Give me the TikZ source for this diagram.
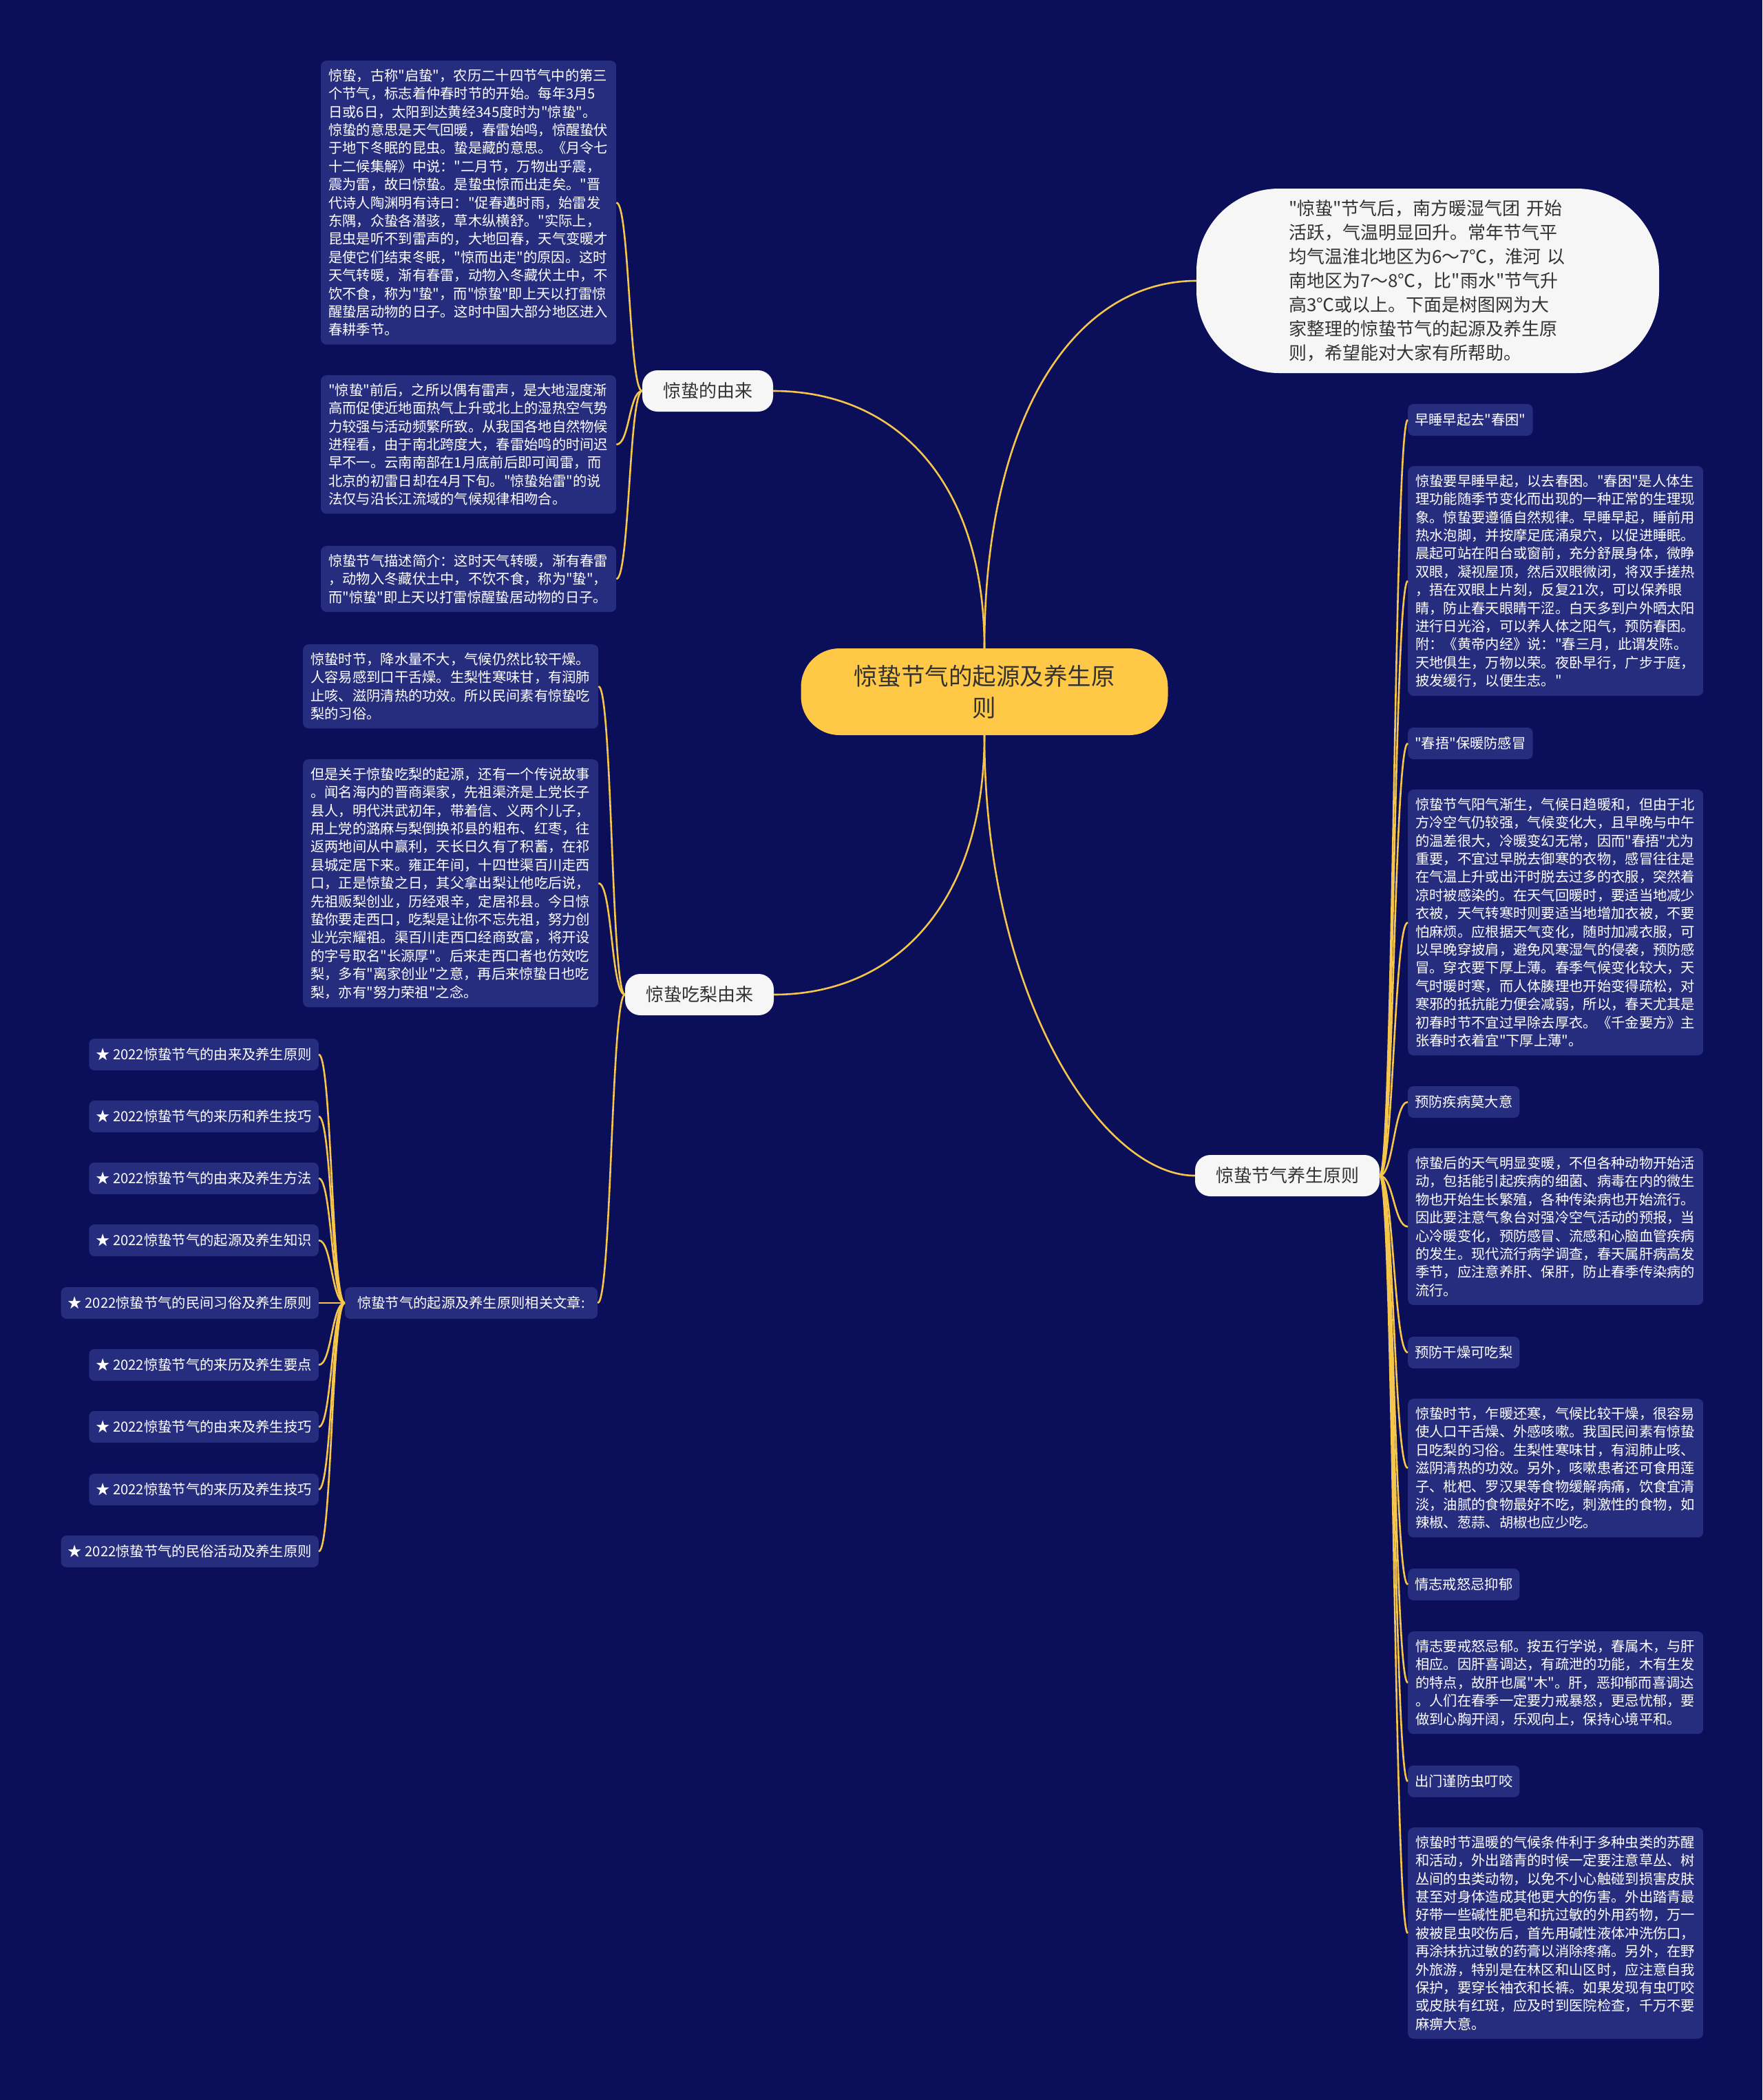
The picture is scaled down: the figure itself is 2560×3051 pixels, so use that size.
\documentclass[tikz,border=0pt]{standalone}
\usepackage{fontspec}
\setmainfont{Noto Sans CJK SC}[Ligatures=TeXOff]
\usepackage{tikz}
\setlength{\parindent}{0pt}
\definecolor{cnavy}{HTML}{0B0F5A}
\definecolor{cleaf}{HTML}{262D7E}
\definecolor{cgold}{HTML}{F6C64A}
\definecolor{croot}{HTML}{FFC847}
\definecolor{cpale}{HTML}{F6F6F6}
\definecolor{cink}{HTML}{333333}

\begin{document}
\begin{tikzpicture}[x=1pt,y=-1pt,
  leaf/.style={fill=cleaf,rounded corners=8pt,text=white,
    font=\fontsize{20.3}{26.4}\selectfont,align=left,text width=407pt,
    inner xsep=11pt,inner ysep=12pt,anchor=north west},
  tag/.style={fill=cleaf,rounded corners=8pt,text=white,
    font=\fontsize{20.3}{26.4}\selectfont,minimum height=46pt,
    inner xsep=10pt,inner ysep=0pt},
  topic/.style={fill=cpale,rounded corners=22pt,text=cink,
    font=\fontsize{26}{32}\selectfont,minimum height=60pt,inner xsep=30pt},
  link/.style={draw=cgold,line width=2.6pt}]
  \fill[cnavy] (0,0) rectangle (2560,3051);
  \useasboundingbox (0,0) rectangle (2560,3051);

  % root and main topics
  \node[fill=croot,rounded corners=56pt,text=cink,minimum width=533pt,
    minimum height=126pt,align=center,font=\fontsize{34.5}{46}\selectfont]
    (root) at (1430,1005) {惊蛰节气的起源及养生原\\则};
  \node[fill=cpale,rounded corners=120pt,text=cink,minimum width=672pt,
    minimum height=268pt,text width=404pt,align=left,
    font=\fontsize{26}{35}\selectfont] (intro) at (2074,408)
    {"惊蛰"节气后，南方暖湿气团~开始\\活跃，气温明显回升。常年节气平\\均气温淮北地区为6～7℃，淮河~以\\南地区为7～8℃，比"雨水"节气升\\高3℃或以上。下面是树图网为大\\家整理的惊蛰节气的起源及养生原\\则，希望能对大家有所帮助。};
  \node[topic] (origin) at (1028,568) {惊蛰的由来};
  \node[topic] (pear) at (1016,1445) {惊蛰吃梨由来};
  \node[topic] (care) at (1870,1708) {惊蛰节气养生原则};

  % origin
  \node[leaf] (o1) at (466,88) {惊蛰，古称"启蛰"，农历二十四节气中的第三\\个节气，标志着仲春时节的开始。每年3月5\\日或6日，太阳到达黄经345度时为"惊蛰"。\\惊蛰的意思是天气回暖，春雷始鸣，惊醒蛰伏\\于地下冬眠的昆虫。蛰是藏的意思。《月令七\\十二候集解》中说："二月节，万物出乎震，\\震为雷，故曰惊蛰。是蛰虫惊而出走矣。"晋\\代诗人陶渊明有诗曰："促春遘时雨，始雷发\\东隅，众蛰各潜骇，草木纵横舒。"实际上，\\昆虫是听不到雷声的，大地回春，天气变暖才\\是使它们结束冬眠，"惊而出走"的原因。这时\\天气转暖，渐有春雷，动物入冬藏伏土中，不\\饮不食，称为"蛰"，而"惊蛰"即上天以打雷惊\\醒蛰居动物的日子。这时中国大部分地区进入\\春耕季节。};
  \node[leaf] (o2) at (466,545) {"惊蛰"前后，之所以偶有雷声，是大地湿度渐\\高而促使近地面热气上升或北上的湿热空气势\\力较强与活动频繁所致。从我国各地自然物候\\进程看，由于南北跨度大，春雷始鸣的时间迟\\早不一。云南南部在1月底前后即可闻雷，而\\北京的初雷日却在4月下旬。"惊蛰始雷"的说\\法仅与沿长江流域的气候规律相吻合。};
  \node[leaf] (o3) at (466,793) {惊蛰节气描述简介：这时天气转暖，渐有春雷\\，动物入冬藏伏土中，不饮不食，称为"蛰"，\\而"惊蛰"即上天以打雷惊醒蛰居动物的日子。};

  % pear
  \node[leaf] (p1) at (440,936) {惊蛰时节，降水量不大，气候仍然比较干燥。\\人容易感到口干舌燥。生梨性寒味甘，有润肺\\止咳、滋阴清热的功效。所以民间素有惊蛰吃\\梨的习俗。};
  \node[leaf] (p2) at (440,1103) {但是关于惊蛰吃梨的起源，还有一个传说故事\\。闻名海内的晋商渠家，先祖渠济是上党长子\\县人，明代洪武初年，带着信、义两个儿子，\\用上党的潞麻与梨倒换祁县的粗布、红枣，往\\返两地间从中赢利，天长日久有了积蓄，在祁\\县城定居下来。雍正年间，十四世渠百川走西\\口，正是惊蛰之日，其父拿出梨让他吃后说，\\先祖贩梨创业，历经艰辛，定居祁县。今日惊\\蛰你要走西口，吃梨是让你不忘先祖，努力创\\业光宗耀祖。渠百川走西口经商致富，将开设\\的字号取名"长源厚"。后来走西口者也仿效吃\\梨，多有"离家创业"之意，再后来惊蛰日也吃\\梨，亦有"努力荣祖"之念。};
  \node[tag,minimum width=367pt] (rel) at (684.5,1893) {惊蛰节气的起源及养生原则相关文章:};

  % related articles
  \node[tag,anchor=east] (a1) at (463,1532) {★ 2022惊蛰节气的由来及养生原则};
  \node[tag,anchor=east] (a2) at (463,1622) {★ 2022惊蛰节气的来历和养生技巧};
  \node[tag,anchor=east] (a3) at (463,1712) {★ 2022惊蛰节气的由来及养生方法};
  \node[tag,anchor=east] (a4) at (463,1802) {★ 2022惊蛰节气的起源及养生知识};
  \node[tag,anchor=east] (a5) at (463,1893) {★ 2022惊蛰节气的民间习俗及养生原则};
  \node[tag,anchor=east] (a6) at (463,1983) {★ 2022惊蛰节气的来历及养生要点};
  \node[tag,anchor=east] (a7) at (463,2073) {★ 2022惊蛰节气的由来及养生技巧};
  \node[tag,anchor=east] (a8) at (463,2164) {★ 2022惊蛰节气的来历及养生技巧};
  \node[tag,anchor=east] (a9) at (463,2254) {★ 2022惊蛰节气的民俗活动及养生原则};

  % care
  \node[tag,anchor=west] (c1) at (2045,610) {早睡早起去"春困"};
  \node[leaf] (c2) at (2045,677) {惊蛰要早睡早起，以去春困。"春困"是人体生\\理功能随季节变化而出现的一种正常的生理现\\象。惊蛰要遵循自然规律。早睡早起，睡前用\\热水泡脚，并按摩足底涌泉穴，以促进睡眠。\\晨起可站在阳台或窗前，充分舒展身体，微睁\\双眼，凝视屋顶，然后双眼微闭，将双手搓热\\，捂在双眼上片刻，反复21次，可以保养眼\\睛，防止春天眼睛干涩。白天多到户外晒太阳\\进行日光浴，可以养人体之阳气，预防春困。\\附：《黄帝内经》说："春三月，此谓发陈。\\天地俱生，万物以荣。夜卧早行，广步于庭，\\披发缓行，以便生志。"};
  \node[tag,anchor=west] (c3) at (2045,1080) {"春捂"保暖防感冒};
  \node[leaf] (c4) at (2045,1147) {惊蛰节气阳气渐生，气候日趋暖和，但由于北\\方冷空气仍较强，气候变化大，且早晚与中午\\的温差很大，冷暖变幻无常，因而"春捂"尤为\\重要，不宜过早脱去御寒的衣物，感冒往往是\\在气温上升或出汗时脱去过多的衣服，突然着\\凉时被感染的。在天气回暖时，要适当地减少\\衣被，天气转寒时则要适当地增加衣被，不要\\怕麻烦。应根据天气变化，随时加减衣服，可\\以早晚穿披肩，避免风寒湿气的侵袭，预防感\\冒。穿衣要下厚上薄。春季气候变化较大，天\\气时暖时寒，而人体腠理也开始变得疏松，对\\寒邪的抵抗能力便会减弱，所以，春天尤其是\\初春时节不宜过早除去厚衣。《千金要方》主\\张春时衣着宜"下厚上薄"。};
  \node[tag,anchor=west] (c5) at (2045,1601) {预防疾病莫大意};
  \node[leaf] (c6) at (2045,1668) {惊蛰后的天气明显变暖，不但各种动物开始活\\动，包括能引起疾病的细菌、病毒在内的微生\\物也开始生长繁殖，各种传染病也开始流行。\\因此要注意气象台对强冷空气活动的预报，当\\心冷暖变化，预防感冒、流感和心脑血管疾病\\的发生。现代流行病学调查，春天属肝病高发\\季节，应注意养肝、保肝，防止春季传染病的\\流行。};
  \node[tag,anchor=west] (c7) at (2045,1965) {预防干燥可吃梨};
  \node[leaf] (c8) at (2045,2032) {惊蛰时节，乍暖还寒，气候比较干燥，很容易\\使人口干舌燥、外感咳嗽。我国民间素有惊蛰\\日吃梨的习俗。生梨性寒味甘，有润肺止咳、\\滋阴清热的功效。另外，咳嗽患者还可食用莲\\子、枇杷、罗汉果等食物缓解病痛，饮食宜清\\淡，油腻的食物最好不吃，刺激性的食物，如\\辣椒、葱蒜、胡椒也应少吃。};
  \node[tag,anchor=west] (c9) at (2045,2302) {情志戒怒忌抑郁};
  \node[leaf] (c10) at (2045,2370) {情志要戒怒忌郁。按五行学说，春属木，与肝\\相应。因肝喜调达，有疏泄的功能，木有生发\\的特点，故肝也属"木"。肝，恶抑郁而喜调达\\。人们在春季一定要力戒暴怒，更忌忧郁，要\\做到心胸开阔，乐观向上，保持心境平和。};
  \node[tag,anchor=west] (c11) at (2045,2588) {出门谨防虫叮咬};
  \node[leaf] (c12) at (2045,2655) {惊蛰时节温暖的气候条件利于多种虫类的苏醒\\和活动，外出踏青的时候一定要注意草丛、树\\丛间的虫类动物，以免不小心触碰到损害皮肤\\甚至对身体造成其他更大的伤害。外出踏青最\\好带一些碱性肥皂和抗过敏的外用药物，万一\\被被昆虫咬伤后，首先用碱性液体冲洗伤口，\\再涂抹抗过敏的药膏以消除疼痛。另外，在野\\外旅游，特别是在林区和山区时，应注意自我\\保护，要穿长袖衣和长裤。如果发现有虫叮咬\\或皮肤有红斑，应及时到医院检查，千万不要\\麻痹大意。};

  % connectors
  \draw[link] (root.north) .. controls +(0,-240) and +(180,0) .. (origin.east);
  \draw[link] (root.north) .. controls +(0,-340) and +(-175,0) .. (intro.west);
  \draw[link] (root.south) .. controls +(0,240) and +(180,0) .. (pear.east);
  \draw[link] (root.south) .. controls +(0,380) and +(-135,0) .. (care.west);

  \draw[link] (origin.west) .. controls +(-19,0) and +(19,0) .. (o1.east);
  \draw[link] (origin.west) .. controls +(-19,0) and +(19,0) .. (o2.east);
  \draw[link] (origin.west) .. controls +(-19,0) and +(19,0) .. (o3.east);

  \draw[link] (pear.west) .. controls +(-20,0) and +(20,0) .. (p1.east);
  \draw[link] (pear.west) .. controls +(-20,0) and +(20,0) .. (p2.east);
  \draw[link] (pear.west) .. controls +(-20,0) and +(20,0) .. (rel.east);

  \draw[link] (rel.west) .. controls +(-19,0) and +(19,0) .. (a1.east);
  \draw[link] (rel.west) .. controls +(-19,0) and +(19,0) .. (a2.east);
  \draw[link] (rel.west) .. controls +(-19,0) and +(19,0) .. (a3.east);
  \draw[link] (rel.west) .. controls +(-19,0) and +(19,0) .. (a4.east);
  \draw[link] (rel.west) -- (a5.east);
  \draw[link] (rel.west) .. controls +(-19,0) and +(19,0) .. (a6.east);
  \draw[link] (rel.west) .. controls +(-19,0) and +(19,0) .. (a7.east);
  \draw[link] (rel.west) .. controls +(-19,0) and +(19,0) .. (a8.east);
  \draw[link] (rel.west) .. controls +(-19,0) and +(19,0) .. (a9.east);

  \draw[link] (care.east) .. controls +(20,0) and +(-20,0) .. (c1.west);
  \draw[link] (care.east) .. controls +(20,0) and +(-20,0) .. (c2.west);
  \draw[link] (care.east) .. controls +(20,0) and +(-20,0) .. (c3.west);
  \draw[link] (care.east) .. controls +(20,0) and +(-20,0) .. (c4.west);
  \draw[link] (care.east) .. controls +(20,0) and +(-20,0) .. (c5.west);
  \draw[link] (care.east) .. controls +(20,0) and +(-20,0) .. (c6.west);
  \draw[link] (care.east) .. controls +(20,0) and +(-20,0) .. (c7.west);
  \draw[link] (care.east) .. controls +(20,0) and +(-20,0) .. (c8.west);
  \draw[link] (care.east) .. controls +(20,0) and +(-20,0) .. (c9.west);
  \draw[link] (care.east) .. controls +(20,0) and +(-20,0) .. (c10.west);
  \draw[link] (care.east) .. controls +(20,0) and +(-20,0) .. (c11.west);
  \draw[link] (care.east) .. controls +(20,0) and +(-20,0) .. (c12.west);
\end{tikzpicture}
\end{document}
